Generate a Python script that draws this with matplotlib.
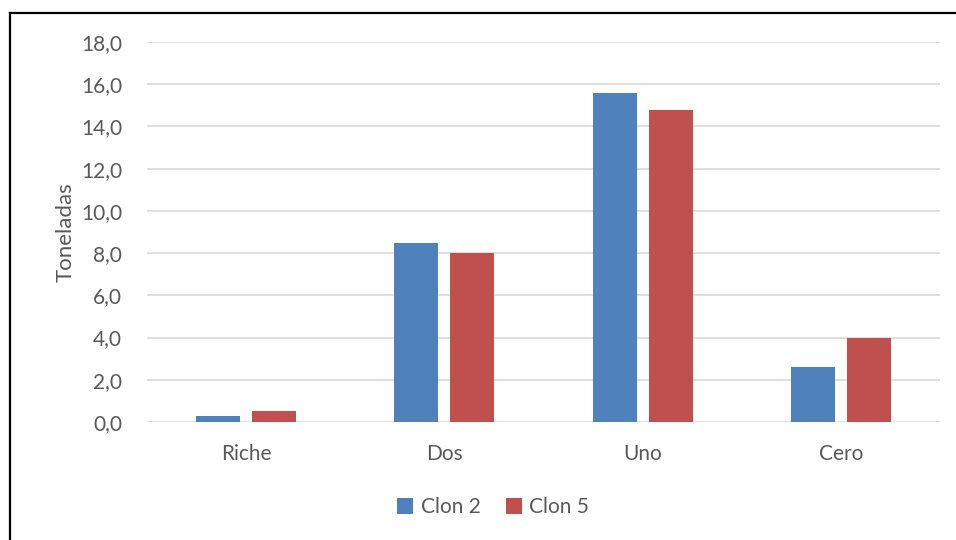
import numpy as np
import matplotlib.pyplot as plt
from matplotlib.lines import Line2D

categories = ["Riche", "Dos", "Uno", "Cero"]
clon_2 = [0.3, 8.5, 15.6, 2.6]
clon_5 = [0.5, 8.0, 14.8, 4.0]
series_names = ["Clon 2", "Clon 5"]
y_ticks = [0, 2, 4, 6, 8, 10, 12, 14, 16, 18]

BLUE = "#4f81bd"
RED = "#c0504d"
TEXT = "#595959"
GRID = "#d9d9d9"

plt.rcParams["font.family"] = ["Lato", "DejaVu Sans"]

fig = plt.figure(figsize=(9.56, 5.40), dpi=100)
ax = fig.add_axes([0.1538, 0.2185, 0.8295, 0.7037])

x = np.arange(len(categories))
width = 0.222
offset = 0.141

ax.bar(x - offset, clon_2, width, color=BLUE, label=series_names[0], zorder=3)
ax.bar(x + offset, clon_5, width, color=RED, label=series_names[1], zorder=3)

ax.set_xlim(-0.5, len(categories) - 0.5)
ax.set_ylim(0, 18)
ax.set_yticks(y_ticks)
ax.set_yticklabels([f"{v:.1f}".replace(".", ",") for v in y_ticks])
ax.set_xticks(x)
ax.set_xticklabels(categories)

ax.grid(axis="y", color=GRID, linewidth=1.2, zorder=0)
for side in ["top", "right", "left", "bottom"]:
    ax.spines[side].set_visible(False)
ax.tick_params(axis="both", length=0, labelsize=15, colors=TEXT)
ax.tick_params(axis="y", pad=18)
ax.tick_params(axis="x", pad=16)

ax.set_ylabel("Toneladas", fontsize=16, color=TEXT, labelpad=4)

fig.legend(loc="center", bbox_to_anchor=(493 / 956, 1 - 507 / 540), ncol=2,
           frameon=False, fontsize=15, labelcolor=TEXT, handlelength=0.8,
           handleheight=0.8, handletextpad=0.35, columnspacing=1.2)

# outer chart frame, open on the right and bottom
fig.add_artist(Line2D([9.5 / 956, 1.0], [1 - 13 / 540, 1 - 13 / 540],
                      color="black", linewidth=1.6, transform=fig.transFigure))
fig.add_artist(Line2D([9.5 / 956, 9.5 / 956], [0.0, 1 - 13 / 540],
                      color="black", linewidth=1.6, transform=fig.transFigure))

fig.savefig("out.png", dpi=100)
